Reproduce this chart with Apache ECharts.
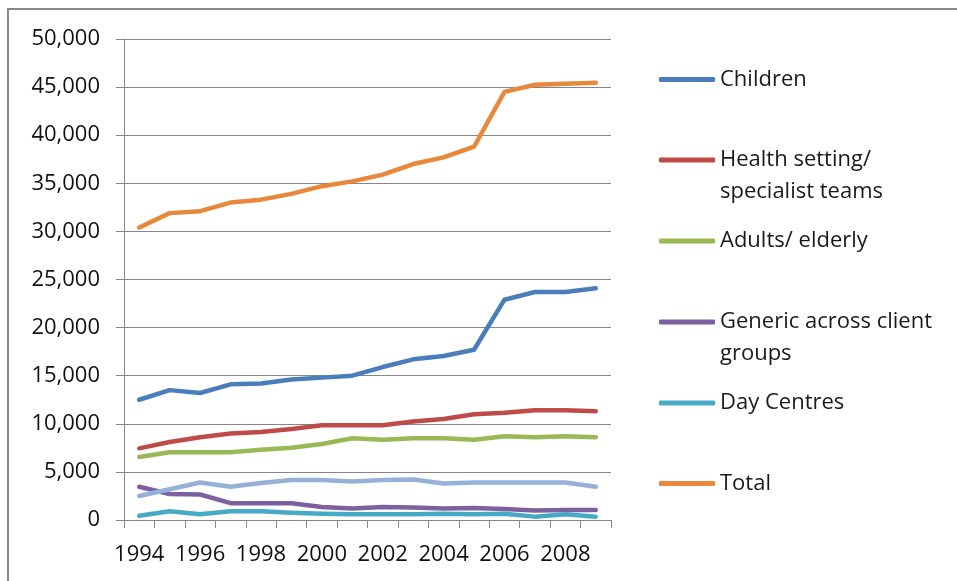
<!DOCTYPE html>
<html>
<head>
<meta charset="utf-8">
<title>Staff by client group</title>
<script src="https://cdn.jsdelivr.net/npm/echarts@6/dist/echarts.min.js"></script>
<style>
  html, body { margin: 0; padding: 0; background: #fff; }
  #main { width: 957px; height: 581px; }
</style>
</head>
<body>
<div id="main"></div>
<script>
// categories
const years = ['1994', '1995', '1996', '1997', '1998', '1999', '2000', '2001',
  '2002', '2003', '2004', '2005', '2006', '2007', '2008', '2009']

// series values
const children = [12500, 13500, 13200, 14100, 14200, 14600, 14800, 15000, 15900, 16700, 17050, 17700, 22900, 23700, 23700, 24100]
const health = [7450, 8100, 8600, 9000, 9150, 9450, 9850, 9850, 9850, 10250, 10500, 11000, 11150, 11400, 11400, 11300]
const adults = [6550, 7050, 7050, 7050, 7300, 7500, 7900, 8500, 8350, 8500, 8500, 8350, 8700, 8600, 8700, 8600]
const generic = [3450, 2700, 2650, 1750, 1750, 1750, 1350, 1200, 1350, 1300, 1200, 1250, 1150, 1000, 1050, 1050]
const dayCentres = [450, 900, 600, 900, 900, 750, 650, 600, 600, 600, 650, 600, 650, 350, 600, 350]
const total = [30400, 31900, 32100, 33000, 33300, 33900, 34700, 35200, 35900, 37000, 37700, 38800, 44500, 45250, 45350, 45450]
// unlabelled light blue line (no legend entry in the original)
const other = [2500, 3200, 3900, 3450, 3850, 4150, 4150, 4000, 4150, 4200, 3800, 3900, 3900, 3900, 3900, 3450]

// legend names and how they wrap
const names = ['Children', 'Health setting/ specialist teams', 'Adults/ elderly',
  'Generic across client groups', 'Day Centres', 'Total']
const wrapped = ['Children', '\nHealth setting/\nspecialist teams', 'Adults/ elderly',
  '\nGeneric across client\ngroups', 'Day Centres', 'Total']

const colors = ['#4A7EBB', '#BE4B48', '#98B954', '#7D60A0', '#46AAC5', '#E8883A', '#95B1D8']
const font = 'Open Sans'

const chart = echarts.init(document.getElementById('main'))

// one legend per entry so each sits where the original puts it
const iconCenters = [79.5, 160, 241, 322, 403, 483.5]
const legends = names.map((n, i) => {
  const lines = wrapped[i].split('\n').length
  return {
    data: [n],
    orient: 'vertical',
    left: 659,
    top: iconCenters[i] - lines * 16,
    padding: 0,
    icon: 'roundRect',
    itemWidth: 56,
    itemHeight: 5,
    selectedMode: false,
    formatter: () => wrapped[i],
    textStyle: { fontFamily: font, fontSize: 22, color: '#1a1a1a', lineHeight: 32 }
  }
})

function line (name, data, color) {
  return {
    name: name,
    type: 'line',
    data: data,
    showSymbol: false,
    symbol: 'none',
    lineStyle: { width: 4.5, color: color, cap: 'round', join: 'round' },
    itemStyle: { color: color }
  }
}

const option = {
  animation: false,
  backgroundColor: '#fff',
  legend: legends,
  grid: { left: 124, top: 39, right: 346, bottom: 61 },
  xAxis: {
    type: 'category',
    data: years,
    boundaryGap: true,
    axisLine: { lineStyle: { color: '#868686', width: 1 } },
    axisTick: { show: true, interval: 0, length: 8, lineStyle: { color: '#868686' } },
    axisLabel: { interval: 1, margin: 24, fontFamily: font, fontSize: 22, color: '#111' }
  },
  yAxis: {
    type: 'value',
    min: 0,
    max: 50000,
    interval: 5000,
    axisLine: { show: true, lineStyle: { color: '#868686', width: 1 } },
    axisTick: { show: true, length: 8, lineStyle: { color: '#868686' } },
    splitLine: { lineStyle: { color: '#868686', width: 1 } },
    axisLabel: {
      margin: 24,
      fontFamily: font,
      fontSize: 22,
      color: '#111',
      formatter: v => v.toLocaleString('en-US')
    }
  },
  graphic: [{
    type: 'rect',
    z: -10,
    silent: true,
    shape: { x: 8, y: 9, width: 1200, height: 1200 },
    style: { fill: 'none', stroke: '#878787', lineWidth: 2 }
  }],
  series: [
    line(names[0], children, colors[0]),
    line(names[1], health, colors[1]),
    line(names[2], adults, colors[2]),
    line(names[3], generic, colors[3]),
    line(names[4], dayCentres, colors[4]),
    line(names[5], total, colors[5]),
    line('Other', other, colors[6])
  ]
}

chart.setOption(option)
</script>
</body>
</html>
